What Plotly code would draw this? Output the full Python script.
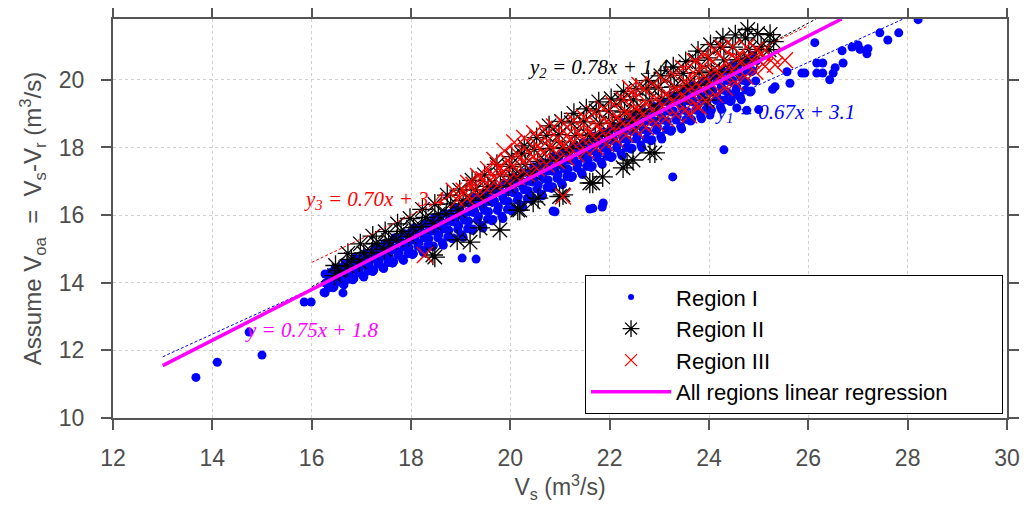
import plotly.graph_objects as go

# Region I (blue dots): main band, then the scattered points
r1_x = [
    16.25, 16.34, 16.28, 16.36, 16.27, 16.45, 16.54, 16.48, 16.56, 16.47,
    16.65, 16.74, 16.68, 16.76, 16.67, 16.85, 16.94, 16.88, 16.96, 16.87,
    17.05, 17.14, 17.08, 17.16, 17.07, 17.25, 17.34, 17.28, 17.36, 17.27,
    17.45, 17.54, 17.48, 17.56, 17.47, 17.65, 17.74, 17.68, 17.76, 17.67,
    17.85, 17.94, 17.88, 17.96, 17.87, 18.05, 18.14, 18.08, 18.16, 18.07,
    18.25, 18.34, 18.28, 18.36, 18.27, 18.45, 18.54, 18.48, 18.56, 18.47,
    18.65, 18.74, 18.68, 18.76, 18.67, 18.85, 18.94, 18.88, 18.96, 18.87,
    19.05, 19.14, 19.08, 19.16, 19.07, 19.25, 19.34, 19.28, 19.36, 19.27,
    19.45, 19.54, 19.48, 19.56, 19.47, 19.65, 19.74, 19.68, 19.76, 19.67,
    19.85, 19.94, 19.88, 19.96, 19.87, 20.05, 20.14, 20.08, 20.16, 20.07,
    20.25, 20.34, 20.28, 20.36, 20.27, 20.45, 20.54, 20.48, 20.56, 20.47,
    20.65, 20.74, 20.68, 20.76, 20.67, 20.85, 20.94, 20.88, 20.96, 20.87,
    21.05, 21.14, 21.08, 21.16, 21.07, 21.25, 21.34, 21.28, 21.36, 21.27,
    21.45, 21.54, 21.48, 21.56, 21.47, 21.65, 21.74, 21.68, 21.76, 21.67,
    21.85, 21.94, 21.88, 21.96, 21.87, 22.05, 22.14, 22.08, 22.16, 22.07,
    22.25, 22.34, 22.28, 22.36, 22.27, 22.45, 22.54, 22.48, 22.56, 22.47,
    22.65, 22.74, 22.68, 22.76, 22.67, 22.85, 22.94, 22.88, 22.96, 22.87,
    23.05, 23.14, 23.08, 23.16, 23.07, 23.25, 23.34, 23.28, 23.36, 23.27,
    23.45, 23.54, 23.48, 23.56, 23.47, 23.65, 23.74, 23.68, 23.76, 23.67,
    23.85, 23.94, 23.88, 23.96, 23.87, 24.05, 24.14, 24.08, 24.16, 24.07,
    24.25, 24.34, 24.28, 24.36, 24.27, 24.45, 24.54, 24.48, 24.56, 24.47,
    24.65, 24.74, 24.68, 24.76, 24.67, 24.85, 24.94, 24.88, 24.96, 24.87,
    13.67, 14.10, 15.00, 14.74, 15.85, 15.99, 16.27, 16.63, 19.03, 19.31,
    20.86, 20.90, 21.60, 21.66, 21.85, 21.87, 23.27, 24.30,
    26.13, 26.68, 26.88, 27.00, 27.04, 27.20, 27.18, 27.44, 27.60, 27.82,
    28.21, 26.17, 26.29, 26.17, 26.29, 26.43, 26.50, 26.54, 26.70, 25.57,
    25.87, 25.93, 25.63, 25.33, 25.28, 24.76, 24.56, 25.00, 24.62, 24.48,
    24.28, 24.02,
]
r1_y = [
    13.71, 13.85, 13.99, 14.13, 14.26, 13.88, 14.04, 14.19, 14.34, 14.43,
    13.94, 14.10, 14.26, 14.41, 14.56, 14.12, 14.30, 14.47, 14.63, 14.73,
    14.17, 14.35, 14.52, 14.69, 14.86, 14.37, 14.56, 14.75, 14.93, 15.03,
    14.42, 14.60, 14.79, 14.98, 15.16, 14.62, 14.82, 15.02, 15.22, 15.33,
    14.66, 14.86, 15.06, 15.26, 15.45, 14.86, 15.08, 15.30, 15.51, 15.63,
    14.89, 15.11, 15.33, 15.54, 15.75, 15.09, 15.33, 15.57, 15.80, 15.93,
    15.11, 15.35, 15.59, 15.82, 16.05, 15.32, 15.58, 15.84, 16.09, 16.23,
    15.34, 15.60, 15.85, 16.10, 16.35, 15.59, 15.86, 16.12, 16.38, 16.53,
    15.62, 15.88, 16.14, 16.40, 16.65, 15.87, 16.14, 16.42, 16.68, 16.83,
    15.90, 16.17, 16.43, 16.69, 16.95, 16.17, 16.44, 16.72, 16.98, 17.13,
    16.23, 16.49, 16.75, 17.00, 17.25, 16.51, 16.77, 17.03, 17.28, 17.43,
    16.57, 16.82, 17.07, 17.31, 17.55, 16.84, 17.09, 17.35, 17.59, 17.73,
    16.90, 17.14, 17.38, 17.62, 17.85, 17.15, 17.40, 17.65, 17.89, 18.03,
    17.20, 17.44, 17.68, 17.92, 18.15, 17.45, 17.70, 17.95, 18.19, 18.33,
    17.50, 17.74, 17.98, 18.22, 18.45, 17.73, 17.99, 18.24, 18.49, 18.63,
    17.75, 18.00, 18.26, 18.51, 18.75, 17.98, 18.25, 18.52, 18.78, 18.93,
    17.99, 18.26, 18.53, 18.79, 19.05, 18.23, 18.51, 18.80, 19.07, 19.23,
    18.25, 18.53, 18.81, 19.08, 19.35, 18.52, 18.81, 19.09, 19.37, 19.53,
    18.55, 18.83, 19.11, 19.38, 19.65, 18.82, 19.11, 19.39, 19.67, 19.83,
    18.85, 19.13, 19.41, 19.68, 19.95, 19.11, 19.40, 19.69, 19.97, 20.13,
    19.13, 19.41, 19.70, 19.98, 20.24, 19.39, 19.69, 19.98, 20.26, 20.43,
    19.41, 19.70, 19.99, 20.27, 20.54, 19.67, 19.97, 20.27, 20.56, 20.73,
    11.20, 11.65, 11.86, 12.54, 13.43, 13.43, 13.70, 13.70, 14.73, 14.70,
    16.12, 16.10, 16.18, 16.20, 16.24, 16.36, 17.13, 17.93,
    21.10, 20.86, 20.97, 21.03, 20.90, 20.92, 20.77, 21.39, 21.18, 21.39,
    21.78, 20.50, 20.50, 20.20, 20.20, 20.00, 20.20, 20.36, 20.50, 20.24,
    20.20, 20.20, 19.90, 19.80, 19.72, 19.10, 19.17, 19.12, 19.50, 19.55,
    19.40, 18.96,
]

# more Region I points lying between the columns above
r1_fill_x = [
    16.43, 16.36, 16.45, 16.38, 16.63, 16.56, 16.65, 16.58,
    16.83, 16.76, 16.85, 16.78, 17.03, 16.96, 17.05, 16.98,
    17.23, 17.16, 17.25, 17.18, 17.43, 17.36, 17.45, 17.38,
    17.63, 17.56, 17.65, 17.58, 17.83, 17.76, 17.85, 17.78,
    18.03, 17.96, 18.05, 17.98, 18.23, 18.16, 18.25, 18.18,
    18.43, 18.36, 18.45, 18.38, 18.63, 18.56, 18.65, 18.58,
    18.83, 18.76, 18.85, 18.78, 19.03, 18.96, 19.05, 18.98,
    19.23, 19.16, 19.25, 19.18, 19.43, 19.36, 19.45, 19.38,
    19.63, 19.56, 19.65, 19.58, 19.83, 19.76, 19.85, 19.78,
    20.03, 19.96, 20.05, 19.98, 20.23, 20.16, 20.25, 20.18,
    20.43, 20.36, 20.45, 20.38, 20.63, 20.56, 20.65, 20.58,
    20.83, 20.76, 20.85, 20.78, 21.03, 20.96, 21.05, 20.98,
    21.23, 21.16, 21.25, 21.18, 21.43, 21.36, 21.45, 21.38,
    21.63, 21.56, 21.65, 21.58, 21.83, 21.76, 21.85, 21.78,
    22.03, 21.96, 22.05, 21.98, 22.23, 22.16, 22.25, 22.18,
    22.43, 22.36, 22.45, 22.38, 22.63, 22.56, 22.65, 22.58,
    22.83, 22.76, 22.85, 22.78, 23.03, 22.96, 23.05, 22.98,
    23.23, 23.16, 23.25, 23.18, 23.43, 23.36, 23.45, 23.38,
    23.63, 23.56, 23.65, 23.58, 23.83, 23.76, 23.85, 23.78,
    24.03, 23.96, 24.05, 23.98, 24.23, 24.16, 24.25, 24.18,
    24.43, 24.36, 24.45, 24.38, 24.63, 24.56, 24.65, 24.58,
    24.83, 24.76, 24.85, 24.78,
]
r1_fill_y = [
    13.85, 14.00, 14.15, 14.30, 13.97, 14.12, 14.28, 14.44,
    14.09, 14.25, 14.42, 14.59, 14.21, 14.38, 14.56, 14.73,
    14.33, 14.51, 14.70, 14.88, 14.45, 14.65, 14.84, 15.03,
    14.58, 14.78, 14.98, 15.18, 14.70, 14.91, 15.12, 15.32,
    14.83, 15.04, 15.26, 15.47, 14.95, 15.17, 15.39, 15.62,
    15.07, 15.30, 15.53, 15.76, 15.18, 15.42, 15.67, 15.91,
    15.30, 15.55, 15.80, 16.05, 15.42, 15.68, 15.94, 16.20,
    15.55, 15.82, 16.08, 16.35, 15.69, 15.96, 16.23, 16.50,
    15.83, 16.10, 16.38, 16.65, 15.97, 16.25, 16.52, 16.80,
    16.12, 16.40, 16.67, 16.95, 16.29, 16.56, 16.83, 17.10,
    16.45, 16.72, 16.98, 17.25, 16.62, 16.88, 17.14, 17.40,
    16.79, 17.04, 17.30, 17.55, 16.95, 17.20, 17.45, 17.70,
    17.11, 17.36, 17.61, 17.86, 17.26, 17.51, 17.76, 18.01,
    17.41, 17.66, 17.91, 18.16, 17.56, 17.81, 18.06, 18.31,
    17.70, 17.95, 18.20, 18.45, 17.83, 18.08, 18.34, 18.60,
    17.95, 18.22, 18.48, 18.75, 18.07, 18.35, 18.62, 18.90,
    18.20, 18.48, 18.76, 19.04, 18.33, 18.62, 18.90, 19.19,
    18.48, 18.77, 19.05, 19.34, 18.63, 18.92, 19.20, 19.49,
    18.78, 19.07, 19.35, 19.64, 18.93, 19.22, 19.50, 19.79,
    19.07, 19.36, 19.65, 19.94, 19.21, 19.51, 19.80, 20.09,
    19.36, 19.65, 19.94, 20.24, 19.50, 19.79, 20.09, 20.39,
    19.64, 19.94, 20.24, 20.54,
]

# Region II (black asterisks)
r2_x = [
    16.46, 16.55, 16.48, 16.71, 16.80, 16.73, 16.96, 17.05, 16.98,
    17.21, 17.30, 17.23, 17.46, 17.55, 17.48, 17.71, 17.80, 17.73,
    17.96, 18.05, 17.98, 18.21, 18.30, 18.23, 18.46, 18.55, 18.48,
    18.71, 18.80, 18.73, 18.96, 19.05, 18.98, 19.21, 19.30, 19.23,
    19.46, 19.55, 19.48, 19.71, 19.80, 19.73,
    19.96, 20.05, 19.98, 20.03, 20.21, 20.30, 20.23, 20.28,
    20.46, 20.55, 20.48, 20.53, 20.71, 20.80, 20.73, 20.78,
    20.96, 21.05, 20.98, 21.03, 21.21, 21.30, 21.23, 21.28,
    21.46, 21.55, 21.48, 21.53, 21.71, 21.80, 21.73, 21.78,
    21.96, 22.05, 21.98, 22.03, 22.21, 22.30, 22.23, 22.28,
    22.46, 22.55, 22.48, 22.53, 22.71, 22.80, 22.73, 22.78,
    22.96, 23.05, 22.98, 23.03, 23.21, 23.30, 23.23, 23.28,
    23.46, 23.55, 23.48, 23.53, 23.71, 23.80, 23.73, 23.78,
    23.96, 24.05, 23.98, 24.03, 24.21, 24.30, 24.23, 24.28,
    24.46, 24.55, 24.48, 24.53, 24.71, 24.80, 24.73, 24.78,
    24.96, 25.05, 24.98, 25.21, 25.30, 25.23,
    20.15, 19.79, 19.19, 18.48, 20.46, 19.39, 18.93, 21.66, 21.86, 22.27,
    22.91, 20.19, 20.56, 21.06, 22.47, 21.60, 20.99, 22.35, 22.81, 23.96,
    18.44,
]
r2_y = [
    14.21, 14.36, 14.51, 14.49, 14.69, 14.87, 14.62, 14.88, 15.15,
    14.90, 15.16, 15.38, 14.99, 15.25, 15.51, 15.27, 15.52, 15.74,
    15.37, 15.63, 15.90, 15.66, 15.93, 16.17, 15.75, 16.03, 16.32,
    16.04, 16.33, 16.59, 16.13, 16.43, 16.74, 16.44, 16.75, 17.03,
    16.51, 16.85, 17.19, 16.83, 17.19, 17.50,
    16.85, 17.14, 17.44, 17.73, 17.18, 17.50, 17.82, 18.05,
    17.24, 17.59, 17.94, 18.29, 17.59, 17.97, 18.36, 18.64,
    17.61, 18.00, 18.38, 18.77, 17.97, 18.35, 18.73, 19.01,
    17.99, 18.37, 18.76, 19.14, 18.33, 18.71, 19.08, 19.35,
    18.36, 18.72, 19.08, 19.44, 18.70, 19.05, 19.40, 19.66,
    18.74, 19.08, 19.41, 19.75, 19.06, 19.40, 19.73, 19.98,
    19.11, 19.45, 19.78, 20.12, 19.45, 19.79, 20.13, 20.38,
    19.49, 19.84, 20.19, 20.54, 19.83, 20.21, 20.58, 20.85,
    19.87, 20.26, 20.65, 21.04, 20.22, 20.59, 20.97, 21.24,
    20.24, 20.60, 20.97, 21.33, 20.56, 20.90, 21.24, 21.49,
    20.64, 20.99, 21.37, 20.89, 21.13, 21.34,
    16.15, 15.56, 15.20, 14.76, 16.39, 15.62, 15.27, 16.95, 17.13, 17.40,
    17.84, 16.15, 16.50, 16.60, 17.63, 16.95, 16.55, 17.54, 17.84, 19.40,
    14.82,
]

# Region III (red crosses)
r3_x = [
    18.93, 18.86, 19.13, 19.06, 19.15, 19.33, 19.26, 19.35, 19.53, 19.46, 19.55,
    19.73, 19.66, 19.75, 19.68, 19.93, 19.86, 19.95, 19.88,
    20.13, 20.06, 20.15, 20.08, 20.33, 20.26, 20.35, 20.28,
    20.53, 20.46, 20.55, 20.48, 20.73, 20.66, 20.75, 20.68,
    20.93, 20.86, 20.95, 20.88, 21.13, 21.06, 21.15, 21.08,
    21.33, 21.26, 21.35, 21.28, 21.53, 21.46, 21.55, 21.48,
    21.73, 21.66, 21.75, 21.68, 21.93, 21.86, 21.95, 21.88,
    22.13, 22.06, 22.15, 22.08, 22.33, 22.26, 22.35, 22.28,
    22.53, 22.46, 22.55, 22.48, 22.73, 22.66, 22.75, 22.68,
    22.93, 22.86, 22.95, 22.88, 23.13, 23.06, 23.15, 23.08,
    23.33, 23.26, 23.35, 23.28, 23.53, 23.46, 23.55, 23.48,
    23.73, 23.66, 23.75, 23.68, 23.71, 23.93, 23.86, 23.95, 23.88, 23.91,
    24.13, 24.06, 24.15, 24.08, 24.11, 24.33, 24.26, 24.35, 24.28,
    24.53, 24.46, 24.55, 24.48, 24.73, 24.66, 24.75, 24.93, 24.86, 24.95,
    25.13, 25.06, 25.33, 25.26, 25.53,
    18.28, 21.06, 22.41, 22.60, 23.60, 23.80,
]
r3_y = [
    16.45, 16.72, 16.50, 16.72, 16.95, 16.62, 16.90, 17.16, 16.76, 17.06, 17.36,
    16.87, 17.12, 17.38, 17.63, 17.00, 17.30, 17.60, 17.90,
    17.12, 17.46, 17.80, 18.15, 17.22, 17.56, 17.90, 18.28,
    17.38, 17.72, 18.06, 18.42, 17.50, 17.85, 18.20, 18.55,
    17.60, 17.93, 18.27, 18.62, 17.70, 18.03, 18.37, 18.70,
    17.80, 18.13, 18.47, 18.80, 17.90, 18.23, 18.57, 18.90,
    18.00, 18.33, 18.67, 19.02, 18.10, 18.44, 18.78, 19.15,
    18.23, 18.57, 18.91, 19.28, 18.37, 18.71, 19.05, 19.42,
    18.50, 18.84, 19.18, 19.55, 18.60, 18.96, 19.32, 19.72,
    18.72, 19.09, 19.46, 19.87, 18.85, 19.22, 19.60, 20.00,
    18.98, 19.36, 19.75, 20.17, 19.12, 19.52, 19.92, 20.35,
    19.25, 19.58, 19.90, 20.22, 20.55, 19.38, 19.72, 20.06, 20.40, 20.75,
    19.55, 19.88, 20.22, 20.55, 20.88, 19.75, 20.15, 20.55, 20.95,
    19.92, 20.27, 20.62, 20.98, 20.10, 20.55, 20.97, 20.25, 20.58, 20.90,
    20.40, 20.78, 20.45, 20.70, 20.58,
    14.82, 16.55, 19.76, 19.85, 18.95, 19.20,
]

# linear fits: slope, intercept, x range
fit_slope = [0.67, 0.78, 0.70, 0.75]
fit_icpt = [3.1, 1.4, 3.4, 1.8]
fit_x0 = [13.0, 16.0, 16.0, 13.0]
fit_x1 = [27.91, 26.15, 26.0, 26.67]
fit_color = ['#0000ff', '#000000', '#ff0000', '#ff00ff']

blue_marker = dict(symbol='circle', size=9, color='#0000ff')
black_marker = dict(symbol='asterisk-open', size=17, color='#000000',
                    line=dict(width=1.3, color='#000000'))
red_marker = dict(symbol='x-thin-open', size=16, color='#ff0000',
                  line=dict(width=1.4, color='#ff0000'))

fig = go.Figure()

fig.add_trace(go.Scatter(x=r1_x + r1_fill_x, y=r1_y + r1_fill_y, mode='markers',
                         showlegend=False, marker=blue_marker))
fig.add_trace(go.Scatter(x=r2_x, y=r2_y, mode='markers', showlegend=False,
                         marker=black_marker))
fig.add_trace(go.Scatter(x=r3_x, y=r3_y, mode='markers', showlegend=False,
                         marker=red_marker))

# dashed per-region fits
for i in range(3):
    xs = [fit_x0[i], fit_x1[i]]
    ys = [fit_slope[i] * v + fit_icpt[i] for v in xs]
    fig.add_trace(go.Scatter(x=xs, y=ys, mode='lines', showlegend=False,
                             line=dict(color=fit_color[i], width=1, dash='3px,2px')))

# all regions fit
xs = [fit_x0[3], fit_x1[3]]
ys = [fit_slope[3] * v + fit_icpt[3] for v in xs]
fig.add_trace(go.Scatter(x=xs, y=ys, mode='lines', showlegend=False,
                         line=dict(color='#ff00ff', width=3.5)))

# legend entries (smaller symbols, like the original legend)
fig.add_trace(go.Scatter(x=[None], y=[None], mode='markers', name='Region I',
                         marker=dict(symbol='circle', size=6, color='#0000ff')))
fig.add_trace(go.Scatter(x=[None], y=[None], mode='markers', name='Region II',
                         marker=dict(symbol='asterisk-open', size=14, color='#000000',
                                     line=dict(width=1.3, color='#000000'))))
fig.add_trace(go.Scatter(x=[None], y=[None], mode='markers', name='Region III',
                         marker=dict(symbol='x-thin-open', size=12, color='#ff0000',
                                     line=dict(width=1.3, color='#ff0000'))))
fig.add_trace(go.Scatter(x=[None], y=[None], mode='lines',
                         name='All regions linear regression' + '\u00a0' * 8,
                         line=dict(color='#ff00ff', width=3.5)))

# equation labels
eq_text = ['y<sub>1</sub> = 0.67x + 3.1', 'y<sub>2</sub> = 0.78x + 1.4',
           'y<sub>3</sub> = 0.70x + 3.4', 'y = 0.75x + 1.8']
eq_x = [25.53, 21.78, 17.27, 15.99]
eq_y = [19.02, 20.35, 16.45, 12.61]
for t, ex, ey, c in zip(eq_text, eq_x, eq_y, fit_color):
    fig.add_annotation(x=ex, y=ey, text='<i>' + t + '</i>', showarrow=False,
                       font=dict(family='Liberation Serif', size=21, color=c))

axis_common = dict(
    showline=True, linecolor='#555555', linewidth=2, mirror='ticks',
    ticks='outside', ticklen=10, tickwidth=2, tickcolor='#555555',
    showgrid=True, gridcolor='#cfcfcf', griddash='dot', gridwidth=1,
    zeroline=False, automargin=False,
    tickfont=dict(family='Liberation Sans', size=23, color='#4d4d4d'),
)

fig.update_xaxes(range=[12, 30], dtick=2, tick0=12, ticklabelstandoff=8,
                 title=dict(text='V<sub>s</sub> (m<sup>3</sup>/s)', standoff=8,
                            font=dict(family='Liberation Sans', size=23, color='#4d4d4d')),
                 **axis_common)
fig.update_yaxes(range=[10, 21.8], dtick=2, tick0=10, ticklabelstandoff=12,
                 title=dict(text='Assume V<sub>oa</sub> \u00a0=\u00a0 V<sub>s</sub>-V<sub>r</sub> (m<sup>3</sup>/s)',
                            standoff=10,
                            font=dict(family='Liberation Sans', size=24, color='#4d4d4d')),
                 **axis_common)

# the page body adds an 8px offset, so the figure is a bit smaller than the window
fig.update_layout(
    width=1018, height=498,
    margin=dict(l=105, r=19, t=11, b=88),
    plot_bgcolor='white', paper_bgcolor='white',
    legend=dict(x=0.528, y=0.358, xanchor='left', yanchor='top',
                bgcolor='white', bordercolor='#000000', borderwidth=1,
                font=dict(family='Liberation Sans', size=22, color='#000000'),
                itemwidth=80),
)

fig.write_html("out.html")
